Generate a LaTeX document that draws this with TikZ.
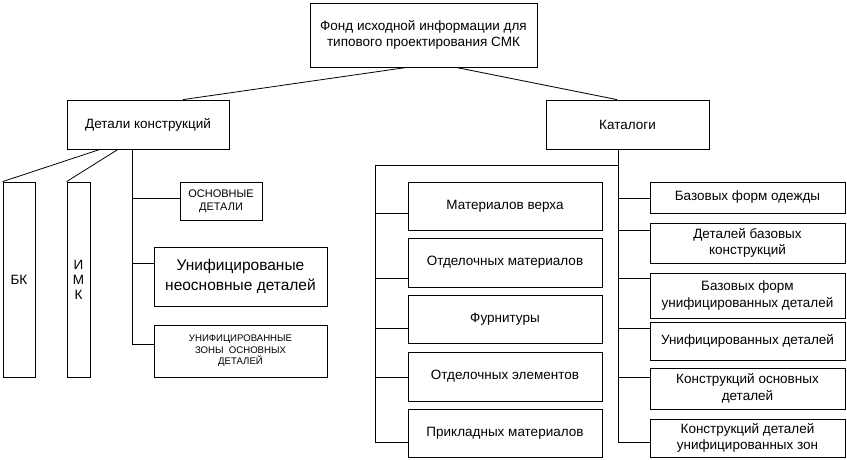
\documentclass[tikz,border=0pt]{standalone}
\usepackage{fontspec}
\setmainfont{Liberation Sans}
\usetikzlibrary{positioning}

\begin{document}
\begin{tikzpicture}[
    x=1pt, y=-1pt,
    box/.style={rectangle, draw, line width=0.8pt, inner sep=0pt, align=center, font=\fontsize{13.5}{16.5}\selectfont},
    small/.style={font=\fontsize{9.6}{11.5}\selectfont},
    big/.style={font=\fontsize{15.5}{20}\selectfont},
    link/.style={line width=0.8pt}
]
\useasboundingbox (0,0) rectangle (847,460);

\node[box, minimum width=227pt, minimum height=64pt] (fond) at (423.5,35) {Фонд исходной информации для\\типового проектирования СМК};
\node[box, minimum width=162pt, minimum height=49pt] (det) at (148,124.5) {Детали конструкций};
\node[box, minimum width=163pt, minimum height=49pt] (kat) at (627.5,124.5) {Каталоги};

\draw[link] ([xshift=-16.5]fond.south) -- ([xshift=35]det.north);
\draw[link] ([xshift=32.5]fond.south) -- ([xshift=-10.5]kat.north);

% Детали конструкций
\node[box, minimum width=32pt, minimum height=195pt] (bk) at (19,279.5) {БК};
\node[box, minimum width=23pt, minimum height=195pt, font=\fontsize{13.5}{15}\selectfont] (imk) at (78.5,279.5) {И\\М\\К};
\node[box, minimum width=82pt, minimum height=38pt, font=\fontsize{11}{13}\selectfont] (osn) at (221,201) {ОСНОВНЫЕ\\ДЕТАЛИ};
\node[box, big, minimum width=173pt, minimum height=59pt] (uni) at (240.5,276.5) {Унифицированые\\неосновные деталей};
\node[box, small, minimum width=173pt, minimum height=52pt] (zon) at (240.5,351) {УНИФИЦИРОВАННЫЕ\\ЗОНЫ\ \ ОСНОВНЫХ\\ДЕТАЛЕЙ};

\draw[link] ([xshift=-48]det.south) -- (bk.north west);
\draw[link] ([xshift=-30]det.south) -- (imk.north west);
\draw[link] ([xshift=-16]det.south) -- (132,344);
\foreach \n/\y in {osn/198, uni/263, zon/344}
  \draw[link] (132,\y) -- (\n.west |- 0,\y);

% Каталоги
\node[box, minimum width=194pt, minimum height=48pt] (mat) at (505,206) {Материалов верха};
\node[box, minimum width=194pt, minimum height=49pt] (otm) at (505,262.5) {Отделочных материалов};
\node[box, minimum width=194pt, minimum height=48pt] (fur) at (505,319) {Фурнитуры};
\node[box, minimum width=194pt, minimum height=49pt] (ote) at (505,376.5) {Отделочных элементов};
\node[box, minimum width=194pt, minimum height=48pt] (pri) at (505,433) {Прикладных материалов};

\node[box, minimum width=195pt, minimum height=31pt] (bfo) at (747.5,197.5) {Базовых форм одежды};
\node[box, minimum width=195pt, minimum height=40pt] (dbk) at (747.5,243) {Деталей базовых\\конструкций};
\node[box, minimum width=195pt, minimum height=45pt] (bfu) at (747.5,295.5) {Базовых форм\\унифицированных деталей};
\node[box, minimum width=195pt, minimum height=38pt] (ud) at (747.5,341) {Унифицированных деталей};
\node[box, minimum width=195pt, minimum height=41pt] (ko) at (747.5,388.5) {Конструкций основных\\деталей};
\node[box, minimum width=195pt, minimum height=38pt] (kdu) at (747.5,438) {Конструкций деталей\\унифицированных зон};

\draw[link] ([xshift=-9.5]kat.south) -- (618,442);
\draw[link] (618,165) -| (375,442);
\foreach \n/\y in {mat/213, otm/278, fur/328, ote/377, pri/442}
  \draw[link] (375,\y) -- (\n.west |- 0,\y);
\foreach \n/\y in {bfo/198, dbk/230, bfu/278, ud/328, ko/377, kdu/442}
  \draw[link] (618,\y) -- (\n.west |- 0,\y);

\end{tikzpicture}
\end{document}
